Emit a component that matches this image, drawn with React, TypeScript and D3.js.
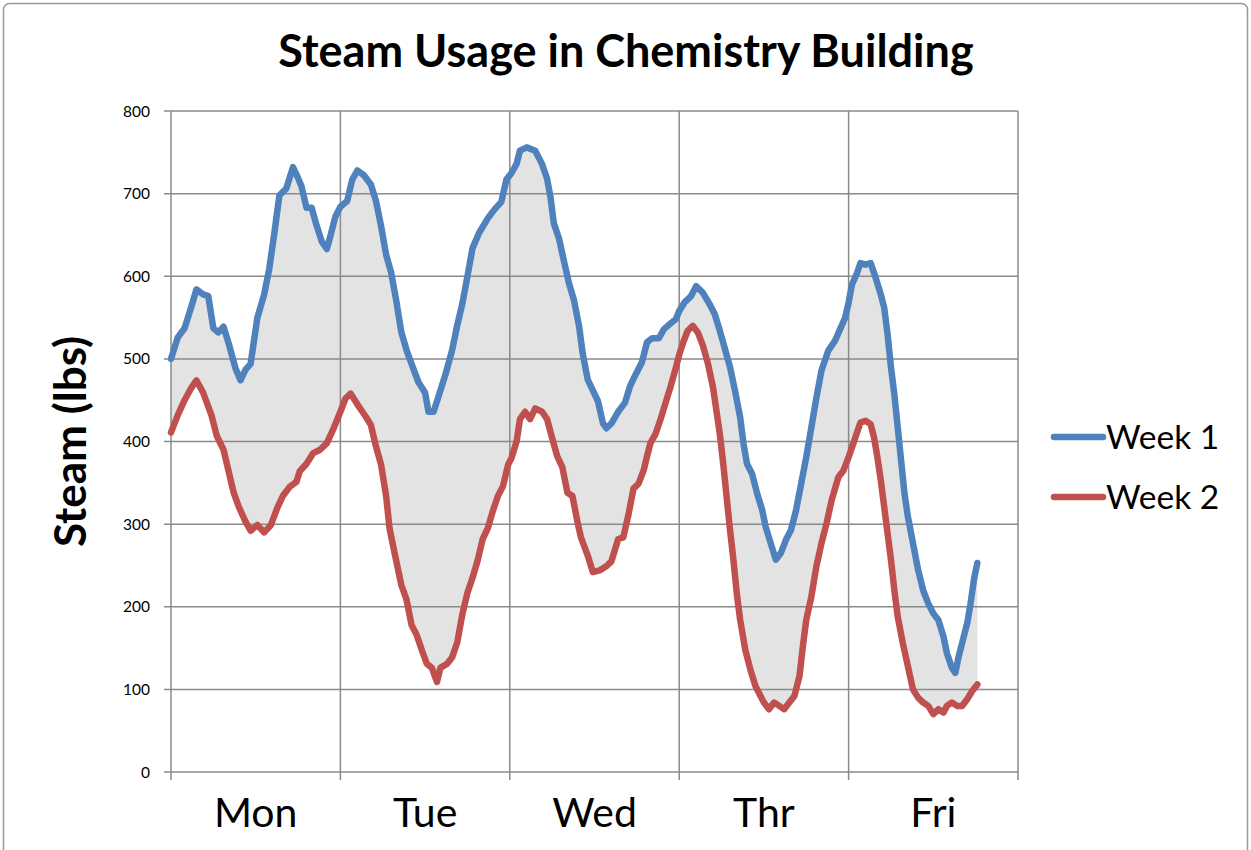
import * as d3 from 'd3';

// day index (0 = Mon 00:00) and steam in lbs
const week1: [number, number][] = [
  [0, 500], [0.04, 526], [0.08, 537], [0.12, 563], [0.15, 584], [0.19, 578], [0.22, 576], [0.25, 537], [0.28, 532], [0.31, 539],
  [0.34, 519], [0.38, 489], [0.41, 474], [0.44, 487], [0.47, 494], [0.51, 550], [0.55, 578], [0.58, 609], [0.61, 652], [0.64, 698],
  [0.68, 706], [0.72, 732], [0.75, 719], [0.77, 709], [0.8, 683], [0.83, 683], [0.86, 661], [0.89, 642], [0.92, 633], [0.94, 648],
  [0.97, 672], [1.0, 684], [1.04, 691], [1.07, 717], [1.1, 728], [1.14, 722], [1.18, 711], [1.21, 691], [1.24, 661], [1.27, 626],
  [1.3, 604], [1.33, 570], [1.36, 532], [1.39, 511], [1.42, 494], [1.46, 472], [1.5, 459], [1.52, 436], [1.55, 436], [1.58, 455],
  [1.62, 481], [1.66, 511], [1.69, 541], [1.72, 567], [1.75, 600], [1.78, 634], [1.82, 653], [1.87, 670], [1.91, 681], [1.95, 690],
  [1.98, 717], [2.01, 725], [2.04, 736], [2.06, 752], [2.1, 756], [2.15, 752], [2.19, 736], [2.22, 718], [2.24, 696], [2.26, 664],
  [2.29, 646], [2.32, 618], [2.35, 591], [2.38, 570], [2.41, 538], [2.43, 507], [2.46, 475], [2.49, 462], [2.52, 449], [2.55, 422],
  [2.57, 416], [2.6, 422], [2.64, 436], [2.68, 447], [2.71, 467], [2.74, 480], [2.78, 496], [2.81, 520], [2.84, 525], [2.88, 525],
  [2.91, 536], [2.95, 543], [2.98, 548], [3.0, 558], [3.03, 568], [3.07, 576], [3.1, 588], [3.14, 580], [3.18, 566], [3.21, 554],
  [3.24, 534], [3.27, 512], [3.3, 490], [3.33, 461], [3.36, 429], [3.38, 397], [3.4, 373], [3.43, 361], [3.46, 337], [3.49, 317],
  [3.51, 297], [3.54, 277], [3.57, 257], [3.6, 265], [3.63, 281], [3.66, 293], [3.69, 317], [3.72, 349], [3.75, 381], [3.78, 417],
  [3.81, 453], [3.84, 486], [3.88, 510], [3.92, 522], [3.95, 536], [3.98, 550], [4.0, 568], [4.02, 590], [4.05, 604], [4.07, 616],
  [4.1, 614], [4.13, 616], [4.16, 598], [4.19, 578], [4.21, 562], [4.23, 530], [4.25, 490], [4.27, 457], [4.29, 417], [4.31, 377],
  [4.33, 337], [4.35, 309], [4.38, 277], [4.41, 245], [4.44, 220], [4.47, 204], [4.5, 192], [4.53, 184], [4.56, 164], [4.58, 144],
  [4.61, 126], [4.63, 120], [4.65, 140], [4.68, 164], [4.7, 180], [4.72, 204], [4.74, 233], [4.76, 253],
];

const week2: [number, number][] = [
  [0, 411], [0.04, 432], [0.08, 450], [0.12, 465], [0.15, 474], [0.19, 459], [0.24, 431], [0.27, 407], [0.31, 390], [0.34, 364],
  [0.37, 338], [0.4, 321], [0.44, 303], [0.47, 292], [0.51, 299], [0.55, 290], [0.59, 299], [0.63, 321], [0.66, 334], [0.7, 345],
  [0.74, 351], [0.76, 364], [0.8, 373], [0.84, 386], [0.88, 390], [0.92, 398], [0.96, 416], [1.0, 436], [1.03, 452], [1.06, 458],
  [1.1, 445], [1.15, 430], [1.18, 420], [1.21, 394], [1.24, 372], [1.27, 334], [1.29, 295], [1.32, 265], [1.36, 226], [1.39, 209],
  [1.42, 178], [1.45, 166], [1.48, 148], [1.51, 131], [1.54, 126], [1.57, 109], [1.59, 126], [1.63, 131], [1.66, 139], [1.69, 157],
  [1.72, 191], [1.75, 217], [1.78, 235], [1.81, 256], [1.84, 282], [1.87, 295], [1.9, 316], [1.93, 334], [1.96, 346], [1.99, 372],
  [2.01, 380], [2.04, 400], [2.06, 427], [2.09, 436], [2.12, 427], [2.15, 440], [2.19, 436], [2.22, 427], [2.25, 404], [2.28, 382],
  [2.31, 369], [2.34, 338], [2.37, 334], [2.4, 302], [2.42, 284], [2.46, 262], [2.49, 242], [2.53, 244], [2.57, 249], [2.6, 255],
  [2.64, 282], [2.67, 284], [2.7, 311], [2.73, 343], [2.76, 349], [2.79, 365], [2.81, 382], [2.83, 398], [2.86, 409], [2.89, 427],
  [2.92, 447], [2.95, 467], [2.98, 489], [3.0, 505], [3.02, 518], [3.05, 534], [3.08, 540], [3.11, 532], [3.14, 516], [3.17, 494],
  [3.2, 465], [3.22, 437], [3.24, 409], [3.26, 373], [3.28, 333], [3.3, 293], [3.32, 257], [3.34, 216], [3.36, 184], [3.39, 148],
  [3.42, 124], [3.45, 104], [3.48, 92], [3.5, 84], [3.53, 76], [3.56, 84], [3.59, 80], [3.62, 76], [3.65, 84], [3.68, 92],
  [3.71, 116], [3.73, 152], [3.75, 184], [3.78, 212], [3.81, 249], [3.84, 277], [3.87, 301], [3.9, 329], [3.94, 357], [3.97, 365],
  [4.0, 381], [4.04, 405], [4.07, 423], [4.1, 425], [4.13, 421], [4.15, 405], [4.17, 381], [4.19, 353], [4.21, 321], [4.23, 289],
  [4.25, 257], [4.27, 220], [4.29, 188], [4.32, 156], [4.35, 128], [4.38, 100], [4.41, 90], [4.44, 84], [4.47, 80], [4.5, 70],
  [4.53, 76], [4.56, 72], [4.58, 80], [4.61, 84], [4.64, 80], [4.67, 80], [4.7, 88], [4.73, 98], [4.76, 106],
];

const days = ['Mon', 'Tue', 'Wed', 'Thr', 'Fri'];
const yTicks = [0, 100, 200, 300, 400, 500, 600, 700, 800];
const seriesNames = ['Week 1', 'Week 2'];

const W = 1251;
const H = 850;
const left = 171;
const right = 1018;
const top = 111;
const bottom = 772;
const FONT = 'Lato, "Open Sans", sans-serif';
const GRID = '#8a8a8a';
const BLUE = '#4f81bd';
const RED = '#c0504d';

export default function App() {
  const x = d3.scaleLinear().domain([0, days.length]).range([left, right]);
  const y = d3.scaleLinear().domain([0, 800]).range([bottom, top]);

  const line = d3
    .line<[number, number]>()
    .x((d) => x(d[0]))
    .y((d) => y(d[1]));

  // grey band between the two weeks
  const band = line([...week1, ...week2.slice().reverse()]) + 'Z';
  const boundaries = d3.range(0, days.length + 1);

  return (
    <svg
      width={W}
      height={H}
      style={{position: 'absolute', left: 0, top: 0, background: '#fff'}}
      fontFamily={FONT}
    >
      <rect x={3.5} y={3.5} width={W - 7} height={H + 20} rx={6} fill="#fff" stroke="#9a9a9a" strokeWidth={1.5} />

      <text x={626} y={67} textAnchor="middle" fontSize={45} fontWeight="bold" fill="#000">
        Steam Usage in Chemistry Building
      </text>

      <path d={band} fill="#e3e3e3" stroke="none" />

      {/* horizontal grid */}
      {yTicks.map((t) => (
        <line key={'h' + t} x1={left - 7} x2={right} y1={y(t)} y2={y(t)} stroke={GRID} strokeWidth={1.5} />
      ))}
      {/* vertical grid at day boundaries */}
      {boundaries.map((b) => (
        <line key={'v' + b} x1={x(b)} x2={x(b)} y1={top} y2={bottom + 8} stroke={GRID} strokeWidth={1.5} />
      ))}

      {yTicks.map((t) => (
        <text key={'yt' + t} x={150} y={y(t) + 5.5} textAnchor="end" fontSize={15.5} fill="#000">
          {t}
        </text>
      ))}

      {days.map((d, i) => (
        <text key={d} x={x(i + 0.5)} y={827} textAnchor="middle" fontSize={41} fill="#000">
          {d}
        </text>
      ))}

      <text
        transform={`translate(86, ${(top + bottom) / 2}) rotate(-90)`}
        textAnchor="middle"
        fontSize={44}
        fontWeight="bold"
        fill="#000"
      >
        Steam (lbs)
      </text>

      <path d={line(week1) ?? ''} fill="none" stroke={BLUE} strokeWidth={6.5} strokeLinejoin="round" strokeLinecap="round" />
      <path d={line(week2) ?? ''} fill="none" stroke={RED} strokeWidth={6.5} strokeLinejoin="round" strokeLinecap="round" />

      {seriesNames.map((s, i) => (
        <g key={s} transform={`translate(0, ${437 + i * 60})`}>
          <line x1={1054} x2={1103} y1={0} y2={0} stroke={i === 0 ? BLUE : RED} strokeWidth={6.5} strokeLinecap="round" />
          <text x={1106} y={12} fontSize={33.5} fill="#000">
            {s}
          </text>
        </g>
      ))}
    </svg>
  );
}
